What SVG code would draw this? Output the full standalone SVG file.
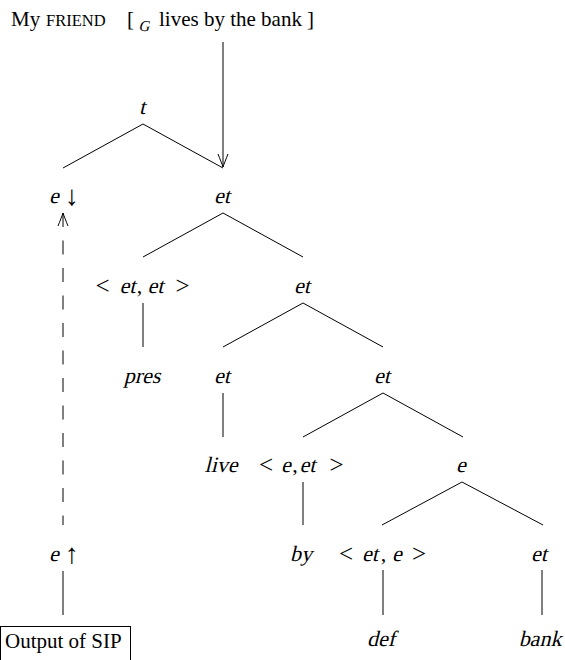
<svg xmlns="http://www.w3.org/2000/svg" width="565" height="660" viewBox="0 0 565 660">
<style>
  .m { font-family: "Liberation Serif", "Times New Roman", serif; font-size: 22px; fill: #000; text-anchor: middle; }
  .op { font-size: 25px; }
  .ar { font-size: 28px; }
  .rm { font-family: "Liberation Serif", "Times New Roman", serif; font-size: 21px; fill: #000; }
  .sc { font-size: 16.5px; }
  .edge { stroke: #000; stroke-width: 1; fill: none; }
  .dash { stroke-dasharray: 14 13.5; }
</style>
<defs>
  <marker id="vhead" markerUnits="userSpaceOnUse" viewBox="-16 -8 18 16" refX="0" refY="0" markerWidth="18" markerHeight="16" orient="auto-start-reverse" overflow="visible">
    <path d="M-13,-5 C-8,-3 -3,-1 0,0 C-3,1 -8,3 -13,5" fill="none" stroke="#000" stroke-width="1" stroke-dasharray="none"/>
  </marker>
</defs>
<rect width="565" height="660" fill="#fff"/>

<g id="sentence">
  <text class="rm" x="11" y="26">My</text>
  <text class="rm sc" x="46" y="26">FRIEND</text>
  <text class="rm" x="127" y="26">[</text>
  <text class="m" transform="translate(144,31) skewX(-14)" style="font-size:15px">G</text>
  <text class="rm" x="159" y="26">lives by the bank</text>
  <text class="rm" x="307" y="26">]</text>
</g>

<g id="connectors">
  <line class="edge" x1="223" y1="42" x2="223" y2="167" marker-end="url(#vhead)"/>
  <line class="edge dash" x1="63" y1="213" x2="63" y2="525" marker-start="url(#vhead)"/>
  <line class="edge" x1="143" y1="124" x2="63" y2="168"/>
  <line class="edge" x1="143" y1="124" x2="223" y2="168"/>
  <line class="edge" x1="223" y1="213" x2="143" y2="257"/>
  <line class="edge" x1="223" y1="213" x2="303" y2="257"/>
  <line class="edge" x1="143" y1="303" x2="143" y2="347"/>
  <line class="edge" x1="303" y1="303" x2="223" y2="347"/>
  <line class="edge" x1="303" y1="303" x2="383" y2="347"/>
  <line class="edge" x1="223" y1="393" x2="223" y2="437"/>
  <line class="edge" x1="383" y1="393" x2="303" y2="437"/>
  <line class="edge" x1="383" y1="393" x2="463" y2="437"/>
  <line class="edge" x1="303" y1="482" x2="303" y2="525"/>
  <line class="edge" x1="462" y1="482" x2="382" y2="525"/>
  <line class="edge" x1="462" y1="482" x2="543" y2="525"/>
  <line class="edge" x1="383" y1="570" x2="383" y2="615"/>
  <line class="edge" x1="542" y1="570" x2="542" y2="615"/>
  <line class="edge" x1="63" y1="571" x2="63" y2="615"/>
</g>

<g id="n-t"><text class="m" transform="translate(142,114) skewX(-14)">t</text></g>
<g id="n-e-down"><text class="m" transform="translate(54,203) skewX(-14)">e</text><text class="m ar" x="72" y="205">↓</text></g>
<g id="n-et1"><text class="m" transform="translate(222,203) skewX(-14)">et</text></g>

<g id="n-etet"><text class="m op" x="102.5" y="294">&lt;</text><text class="m" transform="translate(127.5,293) skewX(-14)">et</text><text class="m" x="139.5" y="293">,</text><text class="m" transform="translate(155.5,293) skewX(-14)">et</text><text class="m op" x="182.5" y="294">&gt;</text></g>
<g id="n-et2"><text class="m" transform="translate(302,293) skewX(-14)">et</text></g>

<g id="n-pres"><text class="m" transform="translate(142,383) skewX(-14)">pres</text></g>
<g id="n-et3"><text class="m" transform="translate(222,383) skewX(-14)">et</text></g>
<g id="n-et4"><text class="m" transform="translate(382,383) skewX(-14)">et</text></g>

<g id="n-live"><text class="m" transform="translate(221,472) skewX(-14)">live</text></g>
<g id="n-eet"><text class="m op" x="266" y="473">&lt;</text><text class="m" transform="translate(286,472) skewX(-14)">e</text><text class="m" x="295" y="472">,</text><text class="m" transform="translate(307.5,472) skewX(-14)">et</text><text class="m op" x="336.5" y="473">&gt;</text></g>
<g id="n-e"><text class="m" transform="translate(461,472) skewX(-14)">e</text></g>

<g id="n-e-up"><text class="m" transform="translate(54,561) skewX(-14)">e</text><text class="m ar" x="72" y="563">↑</text></g>
<g id="n-by"><text class="m" transform="translate(301,561) skewX(-14)">by</text></g>
<g id="n-ete"><text class="m op" x="346" y="562">&lt;</text><text class="m" transform="translate(370,561) skewX(-14)">et</text><text class="m" x="383.5" y="561">,</text><text class="m" transform="translate(397,561) skewX(-14)">e</text><text class="m op" x="419" y="562">&gt;</text></g>
<g id="n-et5"><text class="m" transform="translate(539,561) skewX(-14)">et</text></g>

<g id="n-sip">
  <rect x="0.5" y="626.5" width="130" height="40" fill="none" stroke="#000" stroke-width="1"/>
  <text class="rm" x="5" y="648">Output of SIP</text>
</g>
<g id="n-def"><text class="m" transform="translate(381,646) skewX(-14)">def</text></g>
<g id="n-bank"><text class="m" transform="translate(540,646) skewX(-14)">bank</text></g>
</svg>
